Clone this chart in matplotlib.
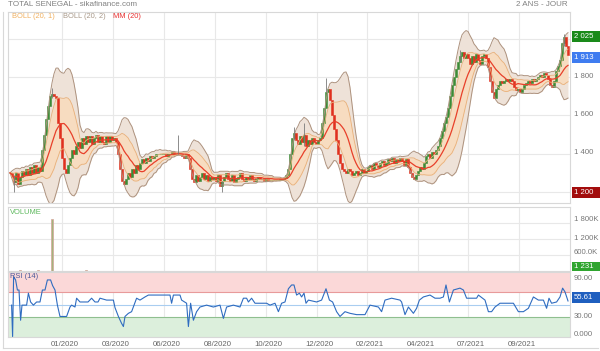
import matplotlib
matplotlib.use('Agg')
matplotlib.rc('font', family=['Liberation Sans', 'DejaVu Sans'])
import matplotlib.pyplot as plt
from matplotlib.patches import Rectangle
import numpy as np
import pandas as pd

W, H = 600, 351

# daily-ish closes (one bar every ~2 px of the reference)
close = [
    1300, 1280, 1250, 1300, 1240, 1280,
    1310, 1290, 1320, 1290, 1330,
    1300, 1340, 1300, 1330, 1310,
    1420, 1500, 1580, 1650, 1700,
    1710, 1700, 1690,
    1560, 1480, 1380, 1320, 1300,
    1340, 1380, 1420, 1400, 1440,
    1460, 1430, 1480, 1450, 1490,
    1460, 1490, 1450, 1480, 1500, 1460, 1490, 1460, 1450, 1490, 1460, 1490, 1470, 1480, 1460,
    1400, 1320, 1260, 1240, 1270,
    1300, 1280, 1320, 1300, 1340, 1320,
    1350, 1370, 1350, 1380, 1360, 1390, 1380,
    1390, 1400, 1400, 1400, 1400, 1400, 1390, 1400, 1400, 1410, 1400, 1400, 1400, 1400, 1390, 1380, 1400,
    1380, 1320, 1270, 1250, 1290, 1260,
    1280, 1300, 1270, 1290, 1260, 1280, 1270,
    1280, 1260, 1290, 1230, 1260, 1280, 1300, 1270, 1260, 1290, 1250, 1270, 1280, 1300,
    1270, 1260, 1280, 1270, 1290, 1270, 1260, 1270, 1280, 1270, 1270, 1260, 1270,
    1265, 1265, 1265, 1265, 1265, 1265, 1270, 1270, 1275,
    1290, 1320, 1400, 1480, 1510, 1470,
    1450, 1490, 1460, 1500, 1440, 1470, 1450, 1480,
    1460, 1450, 1470, 1480,
    1560, 1640, 1720, 1740,
    1680, 1600, 1530, 1470,
    1400, 1350, 1320, 1310,
    1300, 1320, 1310, 1290,
    1300, 1310, 1290, 1300, 1320, 1300, 1310,
    1330, 1340, 1320, 1350, 1340, 1330, 1350, 1360, 1340, 1350,
    1370, 1360, 1380, 1350, 1370, 1360,
    1380, 1360, 1340, 1370, 1330, 1300,
    1280, 1270, 1290,
    1310, 1330, 1320,
    1350, 1390, 1400, 1380, 1410, 1400, 1420,
    1440, 1480, 1520, 1560, 1590,
    1640, 1700, 1760, 1800, 1840,
    1880, 1910, 1930, 1900, 1920,
    1900, 1870, 1910, 1880, 1920, 1890, 1870, 1910, 1920, 1900,
    1850, 1780, 1720, 1690,
    1740, 1760, 1780, 1770,
    1780, 1790, 1780, 1790, 1780,
    1750, 1730, 1740, 1720, 1740,
    1760, 1770, 1780, 1770, 1790, 1780, 1790,
    1800, 1810, 1800, 1820, 1810,
    1790, 1760, 1750, 1780,
    1830, 1860, 1890, 1980,
    2010, 1960, 1913,
]

# a few visible wicks: (bar, low, high)
wicks = [(2, 1200, 1290), (21, 1690, 1745), (84, 1400, 1495), (106, 1200, 1260),
         (142, 1470, 1540), (147, 1440, 1560), (158, 1720, 1795), (225, 1880, 1940),
         (277, 1960, 2025)]

volume_bar = [5, 14, 21, 38, 279]
volume_val = [40000, 30000, 1950000, 40000, 1231]

rsi_pos = [0.8, 1.3, 1.8, 2.8, 3.7, 4.5, 5.3, 6, 8.3, 9.2, 10.3, 11.7, 13.3, 15, 16.2,
           17.5, 18.7, 20.3, 21.3, 22.5, 23.7, 25, 28.3, 30, 30.8, 32.5, 33.3, 35, 39,
           40.8, 42.5, 44, 45, 48.3, 51.7, 52.5, 54.2, 55.8, 56.7, 57.5, 59.2, 60.8,
           63.3, 65, 67.5, 69.2, 80, 80.8, 81.7, 85, 85.8, 88.3, 89.2, 90.3, 91.7, 93.3,
           95, 98.3, 101.7, 105, 106.7, 108.3, 111.7, 115, 116.7, 118.3, 119.2, 120.8,
           122.5, 128.3, 130, 132.5, 134.2, 135.8, 137.5, 139.2, 140.8, 142, 143.3,
           144.7, 145.8, 147, 148, 149.2, 153.3, 155.8, 158, 159.7, 161.3, 163.3, 165,
           167.5, 170, 173.3, 177.5, 180, 184.2, 185.8, 187.5, 190.8, 195, 195.8, 197.5,
           199.2, 201.7, 203.3, 204.7, 206.7, 210, 212.5, 215, 216.7, 218, 219.7, 221.7,
           225, 226.7, 228.3, 233.3, 234.2, 237.5, 239.2, 240.8, 242.5, 245, 251.7,
           254.2, 256.7, 259.2, 261.7, 264.2, 266.7, 268.3, 269.5, 270.8, 273.3, 275,
           276.3, 277.5, 279]
rsi_val = [49, -1, 94, 89, 73, 73, 25, 49, 49, 68, 54, 49, 54, 54, 73,
           73, 89, 89, 80, 73, 49, 31, 31, 46, 49, 46, 60, 54, 54,
           60, 54, 54, 60, 57, 57, 45, 31, 20, 15, 31, 36, 38.6,
           60, 57, 62, 65, 65, 52, 65, 65, 57, 52, 15, 52, 25, 38.6,
           46, 49, 46, 49, 28, 46, 49, 46, 60, 60, 54, 60,
           52, 52, 49, 52, 38.6, 52, 54, 75, 81, 81, 65,
           68, 62, 68, 52, 57, 54, 57, 75, 57, 54, 38.6, 31,
           38.6, 36, 33.9, 33.9, 49, 46, 38.6, 57, 60, 57, 54, 33.9,
           46, 36, 44, 57, 62, 65, 60, 60, 62, 81, 54, 73,
           76, 73, 60, 60, 65, 57, 38.6, 38.6, 46, 52, 52,
           38.6, 38.6, 44, 62, 57, 57, 44, 60, 52, 54, 62,
           76, 70, 55.61]

xtick_pos = [26, 51.5, 77, 102.5, 128, 153.5, 178.5, 204, 229, 254.5]
xtick_labels = ['01/2020', '03/2020', '06/2020', '08/2020', '10/2020',
                '12/2020', '02/2021', '04/2021', '07/2021', '09/2021']

WINDOW = 12


def frac(x, y, w, h):
    """pixel box (top-left origin) -> figure fraction rect"""
    return [x / W, 1 - (y + h) / H, w / W, h / H]


def ftext(x, y, s, **kw):
    fig.text(x / W, 1 - y / H, s, va='center', **kw)


def label_box(y0, y1, text, color):
    fig.add_artist(Rectangle((572 / W, 1 - y1 / H), 28 / W, (y1 - y0) / H,
                             transform=fig.transFigure, color=color, lw=0))
    ftext(574, (y0 + y1) / 2, text, color='white', fontsize=5.6)


grid_c = '#e8e8e8'
spine_c = '#d8d8d8'

fig = plt.figure(figsize=(W / 100, H / 100), dpi=100)
ax = fig.add_axes(frac(8, 12, 562, 191))
axv = fig.add_axes(frac(8, 207, 562, 64))
axr = fig.add_axes(frac(8, 272, 562, 65))

x = np.arange(len(close))
s = pd.Series(close, dtype=float)
opens = s.shift(1).fillna(s.iloc[0])
mm = s.rolling(WINDOW, min_periods=1).mean()
sd = s.rolling(WINDOW, min_periods=1).std(ddof=0)

# Bollinger bands
ax.fill_between(x, mm - 2 * sd, mm + 2 * sd, color='#eee2d8', lw=0)
ax.fill_between(x, mm - sd, mm + sd, color='#f7dcc0', lw=0)
ax.plot(x, mm + 2 * sd, color='#ad927e', lw=0.7)
ax.plot(x, mm - 2 * sd, color='#ad927e', lw=0.7)
ax.plot(x, mm + sd, color='#e8b07a', lw=0.6)
ax.plot(x, mm - sd, color='#e8b07a', lw=0.6)
ax.plot(x, mm, color='#e8402a', lw=0.9)

# candles
for b, lo, hi in wicks:
    ax.vlines(b, lo, hi, color='#7a7a7a', lw=0.6)
up = s >= opens
colors = np.where(up, '#3d8b37', '#e0301e')
ax.bar(x, s - opens, bottom=opens, width=1.1, color=colors,
       edgecolor=colors, linewidth=0.4)

ax.set_ylim(1142.6, 2139.6)
ax.set_yticks([1200, 1400, 1600, 1800, 2000])

# volume
axv.bar(volume_bar, volume_val, width=1.0, color='#a3b47c',
        edgecolor='#d6a49a', linewidth=0.5)
axv.set_ylim(0, 2.4e6)
axv.set_yticks([600000, 1200000, 1800000])

# RSI
axr.axhspan(70, 101.6, color='#fbd8d8', lw=0)
axr.axhspan(-1.6, 30, color='#dcefdc', lw=0)
axr.axhline(70, color='#e89a9a', lw=0.8)
axr.axhline(30, color='#8fbf8f', lw=0.8)
axr.axhline(50, color='#a9cdf0', lw=0.8)
axr.plot(rsi_pos, rsi_val, color='#2f6cc0', lw=0.8)
axr.set_ylim(-1.6, 101.6)
axr.set_yticks([])

for a in (ax, axv, axr):
    a.set_xlim(-1, 280)
    a.set_xticks(xtick_pos)
    a.grid(True, color=grid_c, lw=0.8)
    a.set_axisbelow(True)
    a.tick_params(length=0, labelleft=False, labelbottom=False)
    for sp in a.spines.values():
        sp.set_color(spine_c)
        sp.set_linewidth(0.8)
axr.grid(True, axis='x', color=grid_c, lw=0.8)
axr.grid(False, axis='y')

# outer frame
fig.add_artist(plt.Line2D([3 / W, 3 / W], [1 - 12 / H, 1 - 348 / H],
                          transform=fig.transFigure, color=spine_c, lw=0.8))
fig.add_artist(plt.Line2D([3 / W, 598 / W], [1 - 348 / H, 1 - 348 / H],
                          transform=fig.transFigure, color=spine_c, lw=0.8))

# texts
ftext(8, 5, 'TOTAL SENEGAL - sikafinance.com', color='#808080', fontsize=5.8)
ftext(568, 5, '2 ANS - JOUR', color='#808080', fontsize=5.8, ha='right')
ftext(12, 17, 'BOLL (20, 1)', color='#f0b060', fontsize=5.4)
ftext(63, 17, 'BOLL (20, 2)', color='#a89888', fontsize=5.4)
ftext(113, 17, 'MM (20)', color='#e83030', fontsize=5.4)
ftext(10, 212, 'VOLUME', color='#5cb85c', fontsize=5.4)
ftext(10, 277, 'RSI (14)', color='#4a5a9a', fontsize=5.4)

for lab, yy in [('1 800', 77), ('1 600', 115), ('1 400', 153),
                ('1 800K', 220), ('1 200K', 238), ('600.0K', 253),
                ('90.00', 278), ('30.00', 316), ('0.000', 335)]:
    ftext(574, yy, lab, color='#777777', fontsize=5.6)

label_box(31, 42, '2 025', '#1a8a1a')
label_box(52, 63, '1 913', '#3f7cf0')
label_box(187, 198, '1 200', '#a30d0d')
label_box(262, 271, '1 231', '#2fa52f')
label_box(292, 303, '55.61', '#1f5fbf')

for pos, lab in zip(xtick_pos, xtick_labels):
    ftext(10 + 2 * pos + 2.5, 345, lab, color='#666666', fontsize=5.6, ha='center')

fig.savefig('out.png', dpi=100)
